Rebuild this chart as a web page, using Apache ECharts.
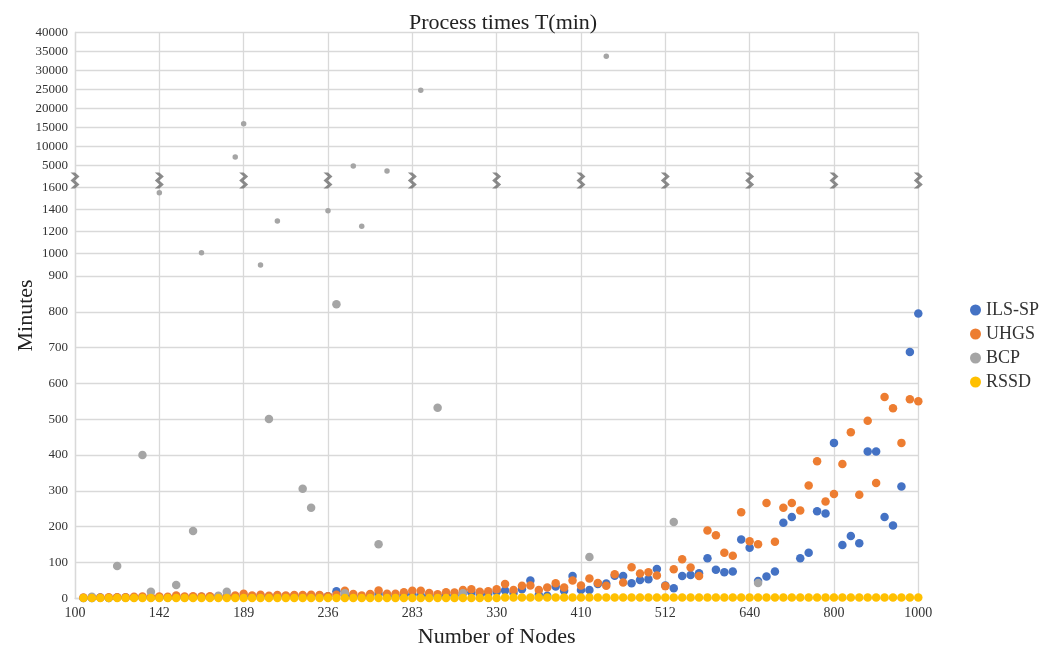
<!DOCTYPE html>
<html>
<head>
<meta charset="utf-8">
<script src="https://cdn.jsdelivr.net/npm/echarts@6/dist/echarts.min.js"></script>
<style>html,body{margin:0;padding:0;background:#fff}#c{width:1050px;height:649px}</style>
</head>
<body>
<div id="c"></div>
<script>
// ---------- data ----------
const xTickLabels = ['100','142','189','236','283','330','410','512','640','800','1000'];
const yTickValues = [0,100,200,300,400,500,600,700,800,900,1000,1200,1400,1600,5000,10000,15000,20000,25000,30000,35000,40000];
const seriesNames = ['ILS-SP','UHGS','BCP','RSSD'];

// instance 1..100 (10 instances per node-count group)
const ilsSp = [
  1,1,2,1,2,2,2,3,2,3,
  2,3,3,3,4,3,4,4,5,5,
  5,6,5,6,6,7,6,7,7,6,
  20,8,6,4,5,12,7,6,10,11,
  8,8,6,9,8,15,16,10,12,18,
  22,15,25,50,10,7,33,21,62,23,
  23,40,41,63,62,42,51,53,82,36,
  28,62,65,70,112,80,73,75,164,141,
  48,61,75,211,227,112,127,243,237,434,
  149,174,154,410,410,227,203,312,688,795
];
const uhgs = [
  2,3,2,3,3,3,4,5,4,5,
  4,8,5,6,5,6,5,6,8,13,
  8,10,7,9,8,9,9,10,9,6,
  10,21,12,8,12,22,13,13,17,21,
  21,15,11,17,16,23,25,18,20,25,
  40,23,35,36,23,30,42,30,50,36,
  55,43,35,67,44,87,69,73,64,34,
  81,109,86,62,189,176,127,119,240,159,
  151,266,158,253,266,245,315,383,270,291,
  375,464,289,496,322,562,531,434,556,550
];
const bcp = [
  null,4,null,null,90,null,null,400,18,1554,
  null,37,null,188,1005,null,7,18,7290,16050,
  null,948,501,1295,null,null,306,253,null,1390,
  821,14,4950,1248,null,151,4180,null,null,null,
  24800,null,532,null,null,14,null,null,null,null,
  null,null,null,null,null,null,null,null,null,null,
  115,null,33760,null,null,null,null,null,null,null,
  213,null,null,null,null,null,null,null,null,null,
  43,null,null,null,null,null,null,null,null,null,
  null,null,null,null,null,null,null,null,null,null
];
const rssd = [
  1,1,1,1,1,1,1,1,1,1,
  1,1,1,1,1,1,1,1,1,1,
  1,1,1,1,1,1,1,1,1,1,
  1,1,1,1,1,1,1,1,1,1,
  1,1,1,1,1,1,1,1,1,1,
  2,2,2,2,2,2,2,2,2,2,
  2,2,2,2,2,2,2,2,2,2,
  2,2,2,2,2,2,2,2,2,2,
  2,2,2,2,2,2,2,2,2,2,
  2,2,2,2,2,2,2,2,2,2
];

// ---------- broken (piecewise) y scale ----------
const yScaleBreaks = [[0,0],[900,322.3],[1000,345],[1600,410.6],[5000,432.6],[40000,565.8]];
const yScaleMax = 565.8;
function toPos(v){
  for(let i=1;i<yScaleBreaks.length;i++){
    const [v0,p0]=yScaleBreaks[i-1],[v1,p1]=yScaleBreaks[i];
    if(v<=v1) return p0+(v-v0)/(v1-v0)*(p1-p0);
  }
  return yScaleMax;
}
const yTickPos = yTickValues.map(toPos);
function labelForPos(p){
  let best=0,bd=1e9;
  yTickPos.forEach((q,i)=>{const d=Math.abs(q-p); if(d<bd){bd=d;best=i;}});
  return String(yTickValues[best]);
}
function pts(arr){
  const out=[];
  arr.forEach((v,i)=>{ if(v!=null) out.push([i+1,toPos(v),v]); });
  return out;
}
const colors = ['#4472C4','#ED7D31','#A5A5A5','#FFC000'];
const FONT = "'Liberation Serif','Times New Roman',serif";
const sizeFn = d => d[2] > 900 ? 5.5 : 8.5;

// break markers on each vertical gridline
const breakMarks = xTickLabels.map((_,i)=>[i*10, toPos(2700)]);

const chart = echarts.init(document.getElementById('c'));
chart.setOption({
  animation:false,
  backgroundColor:'#fff',
  title:{
    text:'Process times T(min)', left:404, top:7,
    textStyle:{fontFamily:FONT,fontSize:22,fontWeight:'normal',color:'#222'}
  },
  legend:{
    data:seriesNames, orient:'vertical', left:965, top:296,
    icon:'circle', itemWidth:11, itemHeight:11, itemGap:6,
    textStyle:{fontFamily:FONT,fontSize:18,color:'#333'}
  },
  grid:{left:75, right:131.7, top:32.5, bottom:50.7, containLabel:false, outerBoundsMode:'none'},
  xAxis:{
    type:'value', min:0, max:100, interval:10,
    name:'Number of Nodes', nameLocation:'middle', nameGap:28, nameMoveOverlap:false,
    nameTextStyle:{fontFamily:FONT,fontSize:22,color:'#222'},
    axisLine:{show:true,lineStyle:{color:'#d9d9d9',width:1.3}},
    axisTick:{show:false},
    axisLabel:{fontFamily:FONT,fontSize:14,color:'#333',margin:8,
      formatter:v=>xTickLabels[Math.round(v/10)]},
    splitLine:{show:true,lineStyle:{color:'#d9d9d9',width:1.3}}
  },
  yAxis:{
    type:'value', min:0, max:yScaleMax,
    name:'Minutes', nameLocation:'middle', nameGap:38, nameMoveOverlap:false,
    nameTextStyle:{fontFamily:FONT,fontSize:22,color:'#222'},
    axisLine:{show:true,lineStyle:{color:'#d9d9d9',width:1.3}},
    axisTick:{show:false, customValues:yTickPos},
    axisLabel:{fontFamily:FONT,fontSize:13,color:'#333',margin:7,
      customValues:yTickPos, formatter:v=>labelForPos(v)},
    splitLine:{show:true,lineStyle:{color:'#d9d9d9',width:1.3}}
  },
  series:[
    {name:'ILS-SP',type:'scatter',data:pts(ilsSp),symbolSize:sizeFn,itemStyle:{color:colors[0],opacity:1},z:2},
    {name:'UHGS',type:'scatter',data:pts(uhgs),symbolSize:sizeFn,itemStyle:{color:colors[1],opacity:1},z:3},
    {name:'BCP',type:'scatter',data:pts(bcp),symbolSize:sizeFn,itemStyle:{color:colors[2],opacity:1},z:4},
    {name:'RSSD',type:'scatter',data:pts(rssd),symbolSize:sizeFn,itemStyle:{color:colors[3],opacity:1},z:5},
    {name:'break',type:'scatter',silent:true,data:breakMarks,
     symbol:'path://M0,0 L4.5,0 L9,4 L4.5,8 L9,12 L4.5,16 L0,16 L4.5,12 L0,8 L4.5,4 Z',
     symbolSize:[9,16], itemStyle:{color:'#6e6e6e'}, z:6}
  ]
});
</script>
</body>
</html>
